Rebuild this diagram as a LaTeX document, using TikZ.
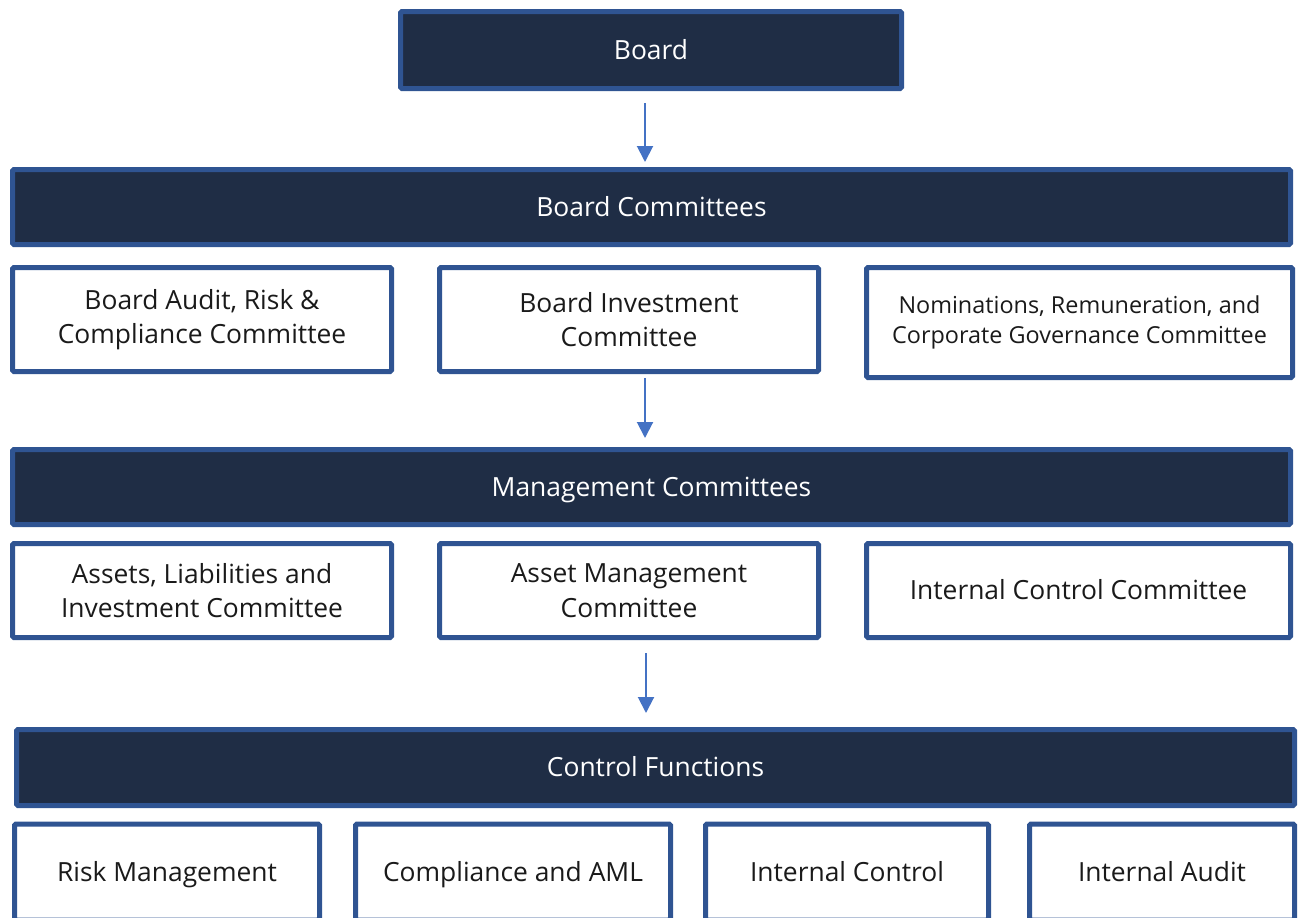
\documentclass[tikz,border=0pt]{standalone}
\usepackage{fontspec}
\setmainfont{Open Sans}
\usepackage{tikz}
\usetikzlibrary{positioning, calc}
\usetikzlibrary{arrows.meta}

\definecolor{navyfill}{HTML}{1F2D45}
\definecolor{frameblue}{HTML}{2F5492}
\definecolor{arrowblue}{HTML}{4472C4}
\definecolor{boxtext}{HTML}{1A1A1A}

\tikzset{
  darkbar/.style={draw=frameblue, fill=navyfill, line width=5pt, rounded corners=1.5pt,
    text=white, font=\fontsize{26.4}{30}\selectfont, inner sep=0pt, align=center,
    text height=18.8pt, text depth=0pt},
  whitebox/.style={draw=frameblue, fill=white, line width=5pt, rounded corners=1.5pt,
    text=boxtext, font=\fontsize{26.4}{34.5}\selectfont, inner sep=0pt, align=center},
  oneline/.style={text height=18.8pt, text depth=0pt},
  downarrow/.style={draw=arrowblue, line width=2pt, -{Triangle[length=16pt,width=16pt]}}
}

\begin{document}
\begin{tikzpicture}[x=1pt, y=-1pt]
                    \useasboundingbox (0,0) rectangle (1301,918);
                    \clip (0,0) rectangle (1301,918);
                    % top level
                    \node[darkbar, minimum width=501, minimum height=77] (board) at (651,50) {Board};
                    \node[darkbar, minimum width=1278, minimum height=75] (bcomm) at (651.5,207) {Board Committees};
                    \node[whitebox, minimum width=379, minimum height=104] (audit) at (202,319.5) {Board Audit, Risk \&\\Compliance Committee};
                    \node[whitebox, minimum width=379, minimum height=104] (invest) at (629,319.5) {Board Investment\\Committee};
                    \node[whitebox, minimum width=426, minimum height=110, font=\fontsize{23.4}{30}\selectfont] (nomin) at (1079.5,322.5) {Nominations, Remuneration, and\\Corporate Governance Committee};
                    % management
                    \node[darkbar, minimum width=1278, minimum height=75] (mcomm) at (651.5,487) {Management Committees};
                    \node[whitebox, minimum width=379, minimum height=94] (alic) at (202,590.5) {Assets, Liabilities and\\Investment Committee};
                    \node[whitebox, minimum width=379, minimum height=94] (amc) at (629,590.5) {Asset Management\\Committee};
                    \node[whitebox, oneline, minimum width=424, minimum height=94] (icc) at (1078.5,590.5) {Internal Control Committee};
                    % control functions
                    \node[darkbar, minimum width=1278, minimum height=76] (cfunc) at (655.5,767.5) {Control Functions};
                    \node[whitebox, oneline, minimum width=305, minimum height=96] (risk) at (167,872) {Risk Management};
                    \node[whitebox, oneline, minimum width=315, minimum height=96] (compl) at (513,872) {Compliance and AML};
                    \node[whitebox, oneline, minimum width=283, minimum height=96] (intctl) at (847,872) {Internal Control};
                    \node[whitebox, oneline, minimum width=265, minimum height=96] (intaud) at (1162,872) {Internal Audit};
                    % arrows
                    \coordinate (a1) at (645,103);
                    \coordinate (b1) at (645,162);
                    \coordinate (a2) at (645,378);
                    \coordinate (b2) at (645,438);
                    \coordinate (a3) at (646,653);
                    \coordinate (b3) at (646,713);
                    \draw[downarrow] (a1) -- (b1);
                    \draw[downarrow] (a2) -- (b2);
                    \draw[downarrow] (a3) -- (b3);
                \end{tikzpicture}
\end{document}
